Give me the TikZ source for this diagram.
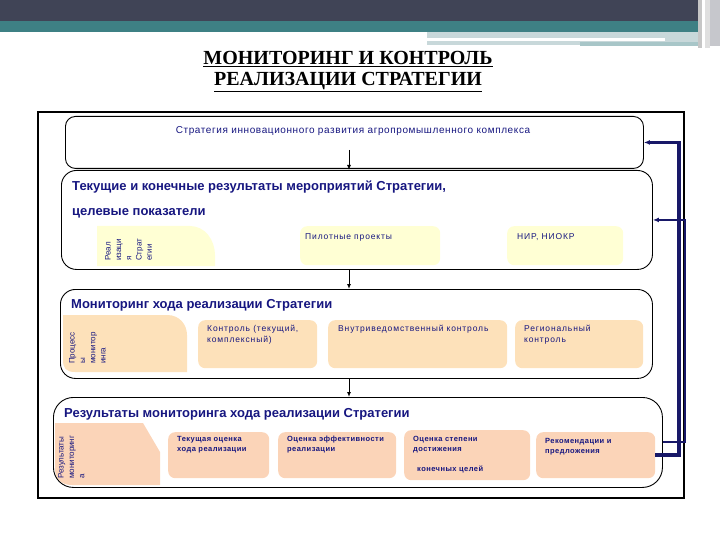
\documentclass[tikz,border=0pt]{standalone}
\usepackage{fontspec}
\setmainfont{Liberation Sans}
\newfontfamily\titlefont{Liberation Serif}
\usetikzlibrary{arrows.meta,positioning,calc}
\definecolor{hdrdark}{RGB}{64,68,86}
\definecolor{hdrteal}{RGB}{62,128,132}
\definecolor{hdrlight}{RGB}{200,216,218}
\definecolor{txtblue}{RGB}{22,22,128}
\definecolor{fbnavy}{RGB}{24,24,104}
\definecolor{ylw}{RGB}{255,255,212}
\definecolor{peach}{RGB}{253,225,186}
\definecolor{salmon}{RGB}{251,212,184}

\begin{document}
\begin{tikzpicture}[x=1pt,y=-1pt,
    bigbox/.style={draw=black, line width=0.9pt, anchor=north west, inner sep=0pt, rounded corners=#1},
    bigbox/.default=14pt,
    smallbox/.style={anchor=north west, inner sep=0pt, rounded corners=7pt},
    headtxt/.style={anchor=west, inner sep=0pt, text=txtblue, font=\bfseries\fontsize{13}{15}\selectfont},
    smalltxt/.style={anchor=north west, inner sep=0pt, align=left, text=txtblue, font=\fontsize{8.5}{11}\selectfont\addfontfeature{LetterSpace=10}},
    restxt/.style={anchor=north west, inner sep=0pt, align=left, text=txtblue, font=\bfseries\fontsize{7.5}{10}\selectfont\addfontfeature{LetterSpace=6}},
    vtxt/.style={rotate=90, anchor=north west, inner sep=0pt, align=left, text=txtblue, font=\fontsize{8}{10.3}\selectfont},
    downarr/.style={-{Latex[length=5pt,width=4pt]}, line width=1pt, black},
    fbthick/.style={-{Latex[length=6pt,width=5pt]}, line width=3.5pt, fbnavy},
    fbthin/.style={-{Latex[length=6pt,width=5pt]}, line width=2pt, fbnavy}]

\useasboundingbox (0,0) rectangle (720,540);

% header
\fill[hdrdark] (0,0) rectangle (698,21);
\fill[hdrteal] (0,21) rectangle (698,32);
\fill[hdrlight] (427,32) rectangle (700,45);
\fill[white] (427,38) rectangle (665,41);
\fill[hdrteal!45] (580,42) rectangle (700,46);
\fill[gray!45] (698,0) rectangle (702,48);
\fill[gray!25] (705,0) rectangle (710,48);
\fill[hdrdark!30] (710,0) rectangle (720,46);

\node[align=center, font=\titlefont\bfseries\fontsize{20}{21}\selectfont] (title) at (348,72)
    {\underline{МОНИТОРИНГ И КОНТРОЛЬ}\\\underline{РЕАЛИЗАЦИИ СТРАТЕГИИ}};

% outer frame
\node[draw=black, line width=1.6pt, anchor=north west, inner sep=0pt, minimum width=646, minimum height=386] (frame) at (37,111) {};

% coloured side shapes
\fill[ylw] (97,226) -- (190,226) .. controls (205,226) and (215,240) .. (215,255) -- (215,266) -- (97,266) -- cycle;
\fill[peach] (63,315) -- (167,315) .. controls (180,315) and (187,325) .. (187,335) -- (187,372) -- (75,372) .. controls (66,372) and (63,368) .. (63,360) -- cycle;
\fill[salmon] (55,423) -- (143,423) -- (160,452) -- (160,485) -- (72,485) .. controls (60,485) and (55,478) .. (55,468) -- cycle;

% main boxes
\node[bigbox=10pt, minimum width=578, minimum height=52] (strat) at (65,116) {};
\node[bigbox=15pt, minimum width=591, minimum height=99] (goals) at (61,170) {};
\node[bigbox=15pt, minimum width=592, minimum height=89] (mon) at (60,289) {};
\node[bigbox=20pt, minimum width=609, minimum height=90] (res) at (53,397) {};

\node[inner sep=0pt, text=txtblue, font=\fontsize{10}{12}\selectfont\addfontfeature{LetterSpace=6}] (strattxt) at (353,131)
    {Стратегия инновационного развития агропромышленного комплекса};
\node[headtxt] (goalstxt) at (72,187) {Текущие и конечные результаты мероприятий Стратегии,};
\node[headtxt] (goalstxt2) at (72,213) {целевые показатели};
\node[headtxt] (montxt) at (71,305) {Мониторинг хода реализации Стратегии};
\node[headtxt] (restxt) at (64,414) {Результаты мониторинга хода реализации Стратегии};

% inner boxes
\node[smallbox, fill=ylw, minimum width=140, minimum height=39] (pilot) at (300,226) {};
\node[smallbox, fill=ylw, minimum width=116, minimum height=39] (nir) at (507,226) {};
\node[smallbox, fill=peach, minimum width=119, minimum height=48] (ctrl) at (198,320) {};
\node[smallbox, fill=peach, minimum width=179, minimum height=48] (inter) at (328,320) {};
\node[smallbox, fill=peach, minimum width=128, minimum height=48] (reg) at (515,320) {};
\node[smallbox, fill=salmon, minimum width=101, minimum height=46] (cur) at (168,432) {};
\node[smallbox, fill=salmon, minimum width=118, minimum height=46] (eff) at (278,432) {};
\node[smallbox, fill=salmon, minimum width=126, minimum height=50] (deg) at (404,430) {};
\node[smallbox, fill=salmon, minimum width=119, minimum height=46] (rec) at (536,432) {};

\node[smalltxt] (pilottxt) at ([shift={(5,7)}]pilot.north west) {Пилотные проекты};
\node[smalltxt] (nirtxt) at ([shift={(10,7)}]nir.north west) {НИР, НИОКР};
\node[smalltxt] (ctrltxt) at ([shift={(9,5)}]ctrl.north west) {Контроль (текущий,\\комплексный)};
\node[smalltxt] (intertxt) at ([shift={(10,5)}]inter.north west) {Внутриведомственный контроль};
\node[smalltxt] (regtxt) at ([shift={(9,5)}]reg.north west) {Региональный\\контроль};
\node[restxt] (curtxt) at ([shift={(9,4)}]cur.north west) {Текущая оценка\\хода реализации};
\node[restxt] (efftxt) at ([shift={(9,4)}]eff.north west) {Оценка  эффективности\\реализации};
\node[restxt] (degtxt) at ([shift={(9,6)}]deg.north west) {Оценка степени\\достижения};
\node[restxt] (degtxt2) at ([shift={(13,36)}]deg.north west) {конечных целей};
\node[restxt] (rectxt) at ([shift={(9,6)}]rec.north west) {Рекомендации и\\предложения};

% vertical side labels
\node[vtxt] (realtxt) at (105,261) {Реал\\изаци\\я\\Страт\\егии};
\node[vtxt] (proctxt) at (69,364) {Процесс\\ы\\монитор\\инга};
\node[vtxt] (resvtxt) at (58,479) {Результаты\\мониторинг\\а};

% flow arrows
\coordinate (col) at (349,150);
\draw[downarr] (col) -- (col |- goals.north);
\draw[downarr] (col |- goals.south) -- (col |- mon.north);
\draw[downarr] (col |- mon.south) -- (col |- res.north);

% feedback
\coordinate (fbin) at (679,0);
\coordinate (fbout) at (685,0);
\draw[fbthick] (rec.east) -| (fbin |- strat.east) -- (strat.east);
\draw[fbthin] (res.east) -| (fbout |- goals.east) -- (goals.east);
\end{tikzpicture}
\end{document}
